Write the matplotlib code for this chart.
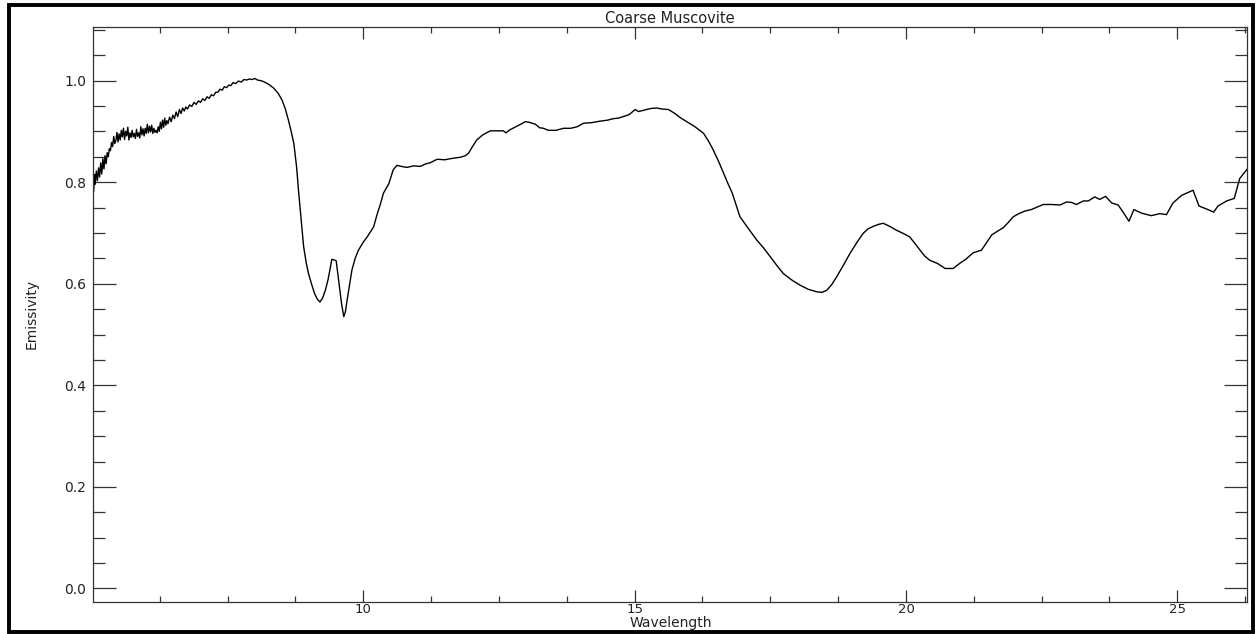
import matplotlib
matplotlib.use("Agg")
import matplotlib.pyplot as plt
from matplotlib.ticker import MultipleLocator, FixedLocator
from matplotlib.patches import Rectangle

title = "Coarse Muscovite"
x_label = "Wavelength"
y_label = "Emissivity"

x_major_ticks = [10, 15, 20, 25]
y_major_ticks = [0.0, 0.2, 0.4, 0.6, 0.8, 1.0]
y_tick_labels = ["0.0", "0.2", "0.4", "0.6", "0.8", "1.0"]

# Noisy short-wavelength part
wl_short = [5.03, 5.05, 5.06, 5.08, 5.10, 5.12, 5.14, 5.16, 5.18, 5.20, 5.22, 5.24, 5.26, 5.28,
            5.30, 5.32, 5.34, 5.36, 5.38, 5.40, 5.42, 5.44, 5.46, 5.48, 5.50, 5.52, 5.54,
            5.56, 5.58, 5.60, 5.62, 5.64, 5.66, 5.68, 5.70, 5.72, 5.74, 5.76, 5.78,
            5.80, 5.82, 5.84, 5.86, 5.88, 5.90, 5.92, 5.94, 5.96, 5.98, 6.00, 6.02, 6.04,
            6.06, 6.08, 6.10, 6.12, 6.14, 6.16, 6.18, 6.20, 6.22, 6.24, 6.26,
            6.28, 6.30, 6.32, 6.34, 6.36, 6.38, 6.40, 6.43, 6.46, 6.49, 6.52, 6.55, 6.58,
            6.61, 6.64, 6.67, 6.70, 6.73, 6.76, 6.80, 6.84, 6.88, 6.92, 6.96, 7.00,
            7.04, 7.08, 7.12, 7.16, 7.20, 7.24, 7.28, 7.32, 7.36, 7.40, 7.44, 7.48,
            7.52, 7.56, 7.60, 7.65, 7.70, 7.75, 7.80, 7.85, 7.90, 7.95, 8.00, 8.05, 8.10]
em_short = [0.782, 0.815, 0.796, 0.822, 0.803, 0.828, 0.810, 0.838, 0.816, 0.846, 0.826, 0.852, 0.836, 0.858,
            0.850, 0.866, 0.862, 0.878, 0.870, 0.890, 0.876, 0.882, 0.898, 0.879, 0.895, 0.883, 0.902,
            0.889, 0.906, 0.884, 0.900, 0.891, 0.908, 0.883, 0.897, 0.888, 0.902, 0.889, 0.896,
            0.886, 0.904, 0.890, 0.897, 0.887, 0.909, 0.893, 0.905, 0.891, 0.906, 0.896, 0.914, 0.897,
            0.910, 0.899, 0.912, 0.896, 0.906, 0.898, 0.902, 0.897, 0.909, 0.900, 0.918,
            0.905, 0.922, 0.908, 0.926, 0.912, 0.921, 0.915, 0.928, 0.919, 0.932, 0.925, 0.938, 0.929,
            0.943, 0.935, 0.946, 0.940, 0.948, 0.944, 0.952, 0.949, 0.957, 0.953, 0.960, 0.957,
            0.964, 0.961, 0.968, 0.965, 0.972, 0.970, 0.977, 0.977, 0.983, 0.981, 0.988, 0.986,
            0.991, 0.990, 0.996, 0.994, 0.999, 0.997, 1.002, 1.001, 1.003, 1.002, 1.004, 1.001, 1.000]

# Smoother long-wavelength part
wl_long = [8.16, 8.25, 8.35, 8.43, 8.50, 8.56, 8.62, 8.67, 8.72, 8.77, 8.81, 8.86, 8.90, 8.95,
           8.99, 9.05, 9.10, 9.15, 9.20, 9.25, 9.30, 9.35, 9.38, 9.42, 9.46, 9.50, 9.53, 9.56,
           9.60, 9.64, 9.67, 9.70, 9.75, 9.79, 9.85, 9.91, 10.00, 10.07, 10.13, 10.19, 10.25,
           10.31, 10.37, 10.47, 10.55, 10.62, 10.70, 10.80, 10.93, 11.05, 11.15, 11.23, 11.36,
           11.50, 11.65, 11.79, 11.88, 11.94, 12.00, 12.09, 12.20, 12.34, 12.45, 12.58, 12.63,
           12.70, 12.83, 12.92, 12.98, 13.05, 13.17, 13.25, 13.32, 13.41, 13.55, 13.69, 13.82,
           13.94, 14.06, 14.20, 14.36, 14.50, 14.61, 14.70, 14.82, 14.90, 15.01, 15.07, 15.15,
           15.22, 15.30, 15.41, 15.50, 15.62, 15.73, 15.84, 15.96, 16.10, 16.27, 16.36, 16.45,
           16.55, 16.64, 16.72, 16.80, 16.87, 16.94, 17.10, 17.25, 17.38, 17.50, 17.62, 17.74,
           17.90, 18.05, 18.20, 18.36, 18.45, 18.54, 18.63, 18.72, 18.85, 18.97, 19.10, 19.21,
           19.30, 19.40, 19.50, 19.58, 19.70, 19.83, 19.95, 20.07, 20.16, 20.26, 20.35, 20.44,
           20.58, 20.72, 20.87, 20.99, 21.10, 21.24, 21.39, 21.48, 21.58, 21.68, 21.79, 21.88,
           21.98, 22.08, 22.19, 22.31, 22.42, 22.53, 22.68, 22.84, 22.96, 23.05, 23.14, 23.27,
           23.36, 23.48, 23.57, 23.68, 23.79, 23.91, 24.00, 24.11, 24.20, 24.34, 24.52, 24.68,
           24.80, 24.92, 25.08, 25.29, 25.40, 25.54, 25.67, 25.75, 25.91, 26.05, 26.15, 26.29]
em_long = [0.998, 0.993, 0.985, 0.975, 0.962, 0.945, 0.922, 0.900, 0.876, 0.830, 0.778, 0.720, 0.673, 0.640,
           0.620, 0.598, 0.581, 0.570, 0.564, 0.572, 0.587, 0.608, 0.625, 0.648, 0.647, 0.645, 0.620, 0.594,
           0.560, 0.535, 0.545, 0.567, 0.600, 0.627, 0.650, 0.666, 0.682, 0.692, 0.702, 0.712, 0.735,
           0.755, 0.778, 0.797, 0.824, 0.833, 0.831, 0.829, 0.832, 0.831, 0.836, 0.838, 0.845,
           0.844, 0.847, 0.849, 0.852, 0.857, 0.868, 0.883, 0.893, 0.901, 0.901, 0.901, 0.897,
           0.903, 0.910, 0.915, 0.919, 0.918, 0.914, 0.907, 0.906, 0.902, 0.902, 0.906, 0.906,
           0.909, 0.916, 0.917, 0.920, 0.922, 0.925, 0.926, 0.930, 0.933, 0.943, 0.939, 0.941,
           0.943, 0.945, 0.946, 0.944, 0.943, 0.936, 0.927, 0.919, 0.910, 0.896, 0.881, 0.863,
           0.840, 0.817, 0.797, 0.778, 0.755, 0.732, 0.708, 0.686, 0.670, 0.653, 0.636, 0.620,
           0.607, 0.597, 0.589, 0.584, 0.583, 0.587, 0.598, 0.613, 0.637, 0.660, 0.682, 0.699,
           0.708, 0.713, 0.717, 0.719, 0.713, 0.705, 0.699, 0.692, 0.680, 0.666, 0.654, 0.646,
           0.640, 0.630, 0.630, 0.640, 0.648, 0.661, 0.666, 0.680, 0.696, 0.703, 0.710, 0.720,
           0.732, 0.738, 0.743, 0.746, 0.751, 0.756, 0.756, 0.755, 0.761, 0.760, 0.756, 0.763,
           0.763, 0.771, 0.766, 0.772, 0.759, 0.755, 0.741, 0.723, 0.746, 0.739, 0.734, 0.738,
           0.736, 0.759, 0.774, 0.784, 0.753, 0.747, 0.741, 0.753, 0.763, 0.768, 0.807, 0.826]

wavelength = wl_short + wl_long
emissivity = em_short + em_long

plt.rcParams['font.family'] = ['DejaVu Sans']
text_color = '#222222'
axis_color = '#333333'

fig = plt.figure(figsize=(12.59, 6.34), dpi=100)
fig.patch.set_facecolor('white')

# outer black frame
W, H = 1259.0, 634.0
fig.patches.append(Rectangle((8.5 / W, 2.5 / H), (1252.5 - 8.5) / W, (631.5 - 2.5 - 2.0) / H,
                             transform=fig.transFigure, fill=False, edgecolor='black',
                             linewidth=2.8, zorder=10))

ax = fig.add_axes([93.3 / W, 1 - 601.7 / H, (1247.3 - 93.3) / W, (601.7 - 26.7) / H])
ax.plot(wavelength, emissivity, color='black', linewidth=1.0)

ax.set_xlim(5.024, 26.29)
ax.set_ylim(-0.026, 1.106)

ax.xaxis.set_major_locator(FixedLocator(x_major_ticks))
ax.xaxis.set_minor_locator(MultipleLocator(1.25))
ax.yaxis.set_major_locator(FixedLocator(y_major_ticks))
ax.set_yticklabels(y_tick_labels)
ax.yaxis.set_minor_locator(MultipleLocator(0.05))

ax.tick_params(axis='x', which='major', direction='in', length=8.3, width=0.9,
               top=True, bottom=True, color=axis_color, labelsize=9.5,
               labelcolor=text_color, pad=1.2)
ax.tick_params(axis='x', which='minor', direction='in', length=4.3, width=0.9,
               top=True, bottom=True, color=axis_color)
ax.tick_params(axis='y', which='major', direction='in', length=16.6, width=0.9,
               left=True, right=True, color=axis_color, labelsize=10,
               labelcolor=text_color, pad=5)
ax.tick_params(axis='y', which='minor', direction='in', length=8.6, width=0.9,
               left=True, right=True, color=axis_color)

for s in ax.spines.values():
    s.set_color(axis_color)
    s.set_linewidth(0.9)

ax.set_title(title, fontsize=10.5, color=text_color, pad=3)
ax.set_xlabel(x_label, fontsize=10, color=text_color)
ax.xaxis.set_label_coords(0.5, -0.0255)
ax.xaxis.label.set_va('top')
ax.set_ylabel(y_label, fontsize=10, color=text_color)
ax.yaxis.set_label_coords(-0.047, 0.5)

fig.savefig("out.png", dpi=100)
